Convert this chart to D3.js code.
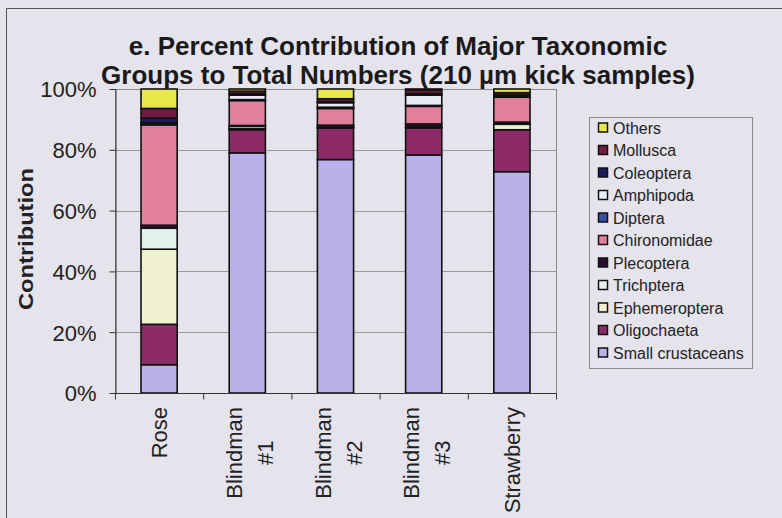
<!DOCTYPE html>
<html>
<head>
<meta charset="utf-8">
<script src="https://cdn.jsdelivr.net/npm/d3@7"></script>
<style>
  html, body { margin: 0; padding: 0; background: #e5e3ec; }
  svg { display: block; font-family: "Liberation Sans", Arial, sans-serif; }
</style>
</head>
<body>
<svg id="chart" width="782" height="518"></svg>
<script>
// Sampling sites (x categories)
const sites = ["Rose", "Blindman #1", "Blindman #2", "Blindman #3", "Strawberry"];

// Taxonomic groups, stacked bottom to top
const groups = ["Small crustaceans", "Oligochaeta", "Ephemeroptera", "Trichptera", "Plecoptera",
                "Chironomidae", "Diptera", "Amphipoda", "Coleoptera", "Mollusca", "Others"];

// Percent contribution per site, one array per group (order follows `sites`)
const smallCrustaceans = [9.3, 79.0, 76.8, 78.3, 72.8];
const oligochaeta      = [13.3, 7.6, 10.3, 8.9, 13.8];
const ephemeroptera    = [24.7, 0.3, 0.0, 0.0, 1.8];
const trichptera       = [6.9, 0.8, 0.3, 0.3, 0.3];
const plecoptera       = [1.0, 0.3, 0.7, 1.0, 0.4];
const chironomidae     = [33.0, 8.2, 5.5, 5.8, 8.2];
const diptera          = [0.4, 0.3, 0.4, 0.3, 0.2];
const amphipoda        = [0.3, 1.5, 1.5, 3.4, 0.3];
const coleoptera       = [1.5, 0.5, 0.3, 0.5, 0.2];
const mollusca         = [3.2, 0.8, 1.0, 1.2, 0.8];
const others           = [6.4, 0.7, 3.2, 0.3, 1.2];

const yTicks = [0, 20, 40, 60, 80, 100];

const seriesValues = [smallCrustaceans, oligochaeta, ephemeroptera, trichptera, plecoptera,
                      chironomidae, diptera, amphipoda, coleoptera, mollusca, others];

const colors = {
  "Small crustaceans": "#b9b2ea",
  "Oligochaeta": "#8d2b68",
  "Ephemeroptera": "#eff1cf",
  "Trichptera": "#e2f0ee",
  "Plecoptera": "#2c0f30",
  "Chironomidae": "#e17f9c",
  "Diptera": "#3b4fa6",
  "Amphipoda": "#e8eaf6",
  "Coleoptera": "#1c1c5a",
  "Mollusca": "#6e1c40",
  "Others": "#e6e84c"
};

// Rows for d3.stack
const rows = sites.map((s, i) => {
  const r = { site: s };
  groups.forEach((g, k) => { r[g] = seriesValues[k][i]; });
  return r;
});

const svg = d3.select("#chart");
const plot = { left: 115, right: 556, top: 89, bottom: 393 };

// Outer frame
svg.append("rect").attr("x", 0).attr("y", 0).attr("width", 782).attr("height", 518).attr("fill", "#e5e3ec");
svg.append("path").attr("d", "M6.5,530 V8.5 H790").attr("fill", "none").attr("stroke", "#555").attr("stroke-width", 1);

const x = d3.scaleBand().domain(sites).range([plot.left, plot.right]).paddingInner(0.59).paddingOuter(0.295);
const y = d3.scaleLinear().domain([0, 100]).range([plot.bottom, plot.top]);

// Plot area border and gridlines
svg.append("rect")
  .attr("x", plot.left + 0.5).attr("y", plot.top + 0.5)
  .attr("width", plot.right - plot.left).attr("height", plot.bottom - plot.top)
  .attr("fill", "none").attr("stroke", "#8a8a8a").attr("stroke-width", 1);

svg.append("g").selectAll("line").data(yTicks.filter(t => t > 0 && t < 100)).join("line")
  .attr("x1", plot.left).attr("x2", plot.right)
  .attr("y1", d => Math.round(y(d)) + 0.5).attr("y2", d => Math.round(y(d)) + 0.5)
  .attr("stroke", "#9a9a9a").attr("stroke-width", 1);

// Stacked bars
const stack = d3.stack().keys(groups)(rows);
svg.append("g").selectAll("g").data(stack).join("g")
  .attr("fill", d => colors[d.key])
  .selectAll("rect").data(d => d).join("rect")
  .attr("x", d => x(d.data.site))
  .attr("width", x.bandwidth())
  .attr("y", d => y(d[1]))
  .attr("height", d => Math.max(0, y(d[0]) - y(d[1])))
  .attr("stroke", "#111").attr("stroke-width", 1.6);

// Y axis
const yAxis = svg.append("g").attr("transform", `translate(${plot.left + 0.5},0)`)
  .call(d3.axisLeft(y).tickValues(yTicks).tickFormat(d => d + "%").tickSize(6).tickSizeOuter(0));
yAxis.select(".domain").attr("stroke", "#333");
yAxis.selectAll(".tick line").attr("stroke", "#333");
yAxis.selectAll(".tick text").attr("font-size", 22).attr("fill", "#222")
  .attr("font-family", "'Liberation Sans', Arial, sans-serif").attr("x", -19).attr("dy", "0.36em");

// X axis with ticks between categories
const xAxis = svg.append("g").attr("transform", `translate(0,${plot.bottom + 0.5})`);
xAxis.append("line").attr("x1", plot.left).attr("x2", plot.right).attr("stroke", "#333");
const step = x.step();
xAxis.selectAll("line.tk").data(d3.range(sites.length + 1)).join("line").attr("class", "tk")
  .attr("x1", i => plot.left + i * step + 0.5).attr("x2", i => plot.left + i * step + 0.5)
  .attr("y1", 0).attr("y2", 6).attr("stroke", "#333");

// Category labels, rotated, wrapped onto two lines
sites.forEach(s => {
  const cx = x(s) + x.bandwidth() / 2;
  const lines = s.split(" ");
  const g = svg.append("g").attr("transform", `translate(${cx},407) rotate(-90)`);
  if (lines.length === 1) {
    g.append("text").attr("text-anchor", "end").attr("y", 8)
      .attr("font-size", 22).attr("fill", "#222").text(s);
  } else {
    const t1 = g.append("text").attr("text-anchor", "end").attr("y", -5)
      .attr("font-size", 22).attr("fill", "#222").text(lines[0]);
    const L = t1.node().getComputedTextLength();
    g.append("text").attr("text-anchor", "middle").attr("x", -L / 2).attr("y", 26)
      .attr("font-size", 22).attr("fill", "#222").text(lines[1]);
  }
});

// Axis title
svg.append("text").attr("transform", "translate(33,239) rotate(-90)")
  .attr("text-anchor", "middle").attr("font-size", 21).attr("font-weight", "bold").attr("fill", "#222")
  .attr("textLength", 142).attr("lengthAdjust", "spacingAndGlyphs")
  .text("Contribution");

// Title
const title = svg.append("text").attr("text-anchor", "middle").attr("font-weight", "bold")
  .attr("font-size", 26).attr("fill", "#1a1a1a");
title.append("tspan").attr("x", 398).attr("y", 55).text("e. Percent Contribution of Major Taxonomic");
title.append("tspan").attr("x", 398).attr("y", 84).text("Groups to Total Numbers (210 µm kick samples)");

// Legend (top entry = top of stack)
const legend = svg.append("g");
legend.append("rect").attr("x", 589.5).attr("y", 117.5).attr("width", 163).attr("height", 251)
  .attr("fill", "none").attr("stroke", "#8a8a8a");
const legendItems = groups.slice().reverse();
legendItems.forEach((g, i) => {
  const cy = 128 + i * 22.5;
  legend.append("rect").attr("x", 598.5).attr("y", cy - 5).attr("width", 9).attr("height", 9)
    .attr("fill", colors[g]).attr("stroke", "#111").attr("stroke-width", 1.5);
  legend.append("text").attr("x", 613).attr("y", cy).attr("dy", "0.36em")
    .attr("font-size", 16).attr("fill", "#222").text(g);
});
</script>
</body>
</html>
